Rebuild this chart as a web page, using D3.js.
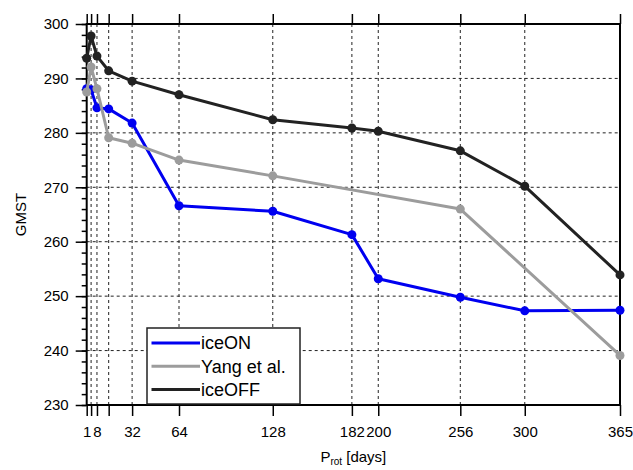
<!DOCTYPE html>
<html>
<head>
<meta charset="utf-8">
<script src="https://cdn.jsdelivr.net/npm/d3@7"></script>
<style>
  body { margin: 0; background: #fff; }
  text { font-family: "Liberation Sans", Arial, sans-serif; fill: #000; }
</style>
</head>
<body>
<div id="chart"></div>
<script>
// rotation periods [days]
const prot = [1, 4, 8, 16, 32, 64, 128, 182, 200, 256, 300, 365];
const iceON = [288.1, 287.9, 284.6, 284.4, 281.8, 266.6, 265.6, 261.3, 253.2, 249.8, 247.3, 247.4];
const iceOFF = [293.7, 297.8, 294.1, 291.4, 289.5, 287.0, 282.4, 280.9, 280.3, 276.7, 270.2, 253.9];
const yangProt = [1, 4, 8, 16, 32, 64, 128, 256, 365];
const yang = [287.5, 292.1, 288.1, 279.1, 278.1, 275.0, 272.1, 266.0, 239.1];

const xTicks = [1, 4, 8, 16, 32, 64, 128, 182, 200, 256, 300, 365];
const xTickLabels = ["1", "", "8", "", "32", "64", "128", "182", "200", "256", "300", "365"];
const yTicks = [230, 240, 250, 260, 270, 280, 290, 300];
const yMinorTicks = d3.range(230, 301, 2);

let width = 633,
  height = 470,
  padLeft = 86.7,
  padRight = 620,
  padTop = 24,
  padBottom = 405;

let xScale = d3.scaleLinear().domain([1, 365]).range([padLeft, padRight]);
let yScale = d3.scaleLinear().domain([230, 300]).range([padBottom, padTop]);

let svg = d3
  .select("#chart")
  .append("svg")
  .attr("width", width)
  .attr("height", height);

// dashed grid
let grid = svg.append("g").attr("stroke", "#222").attr("stroke-width", 1).attr("stroke-dasharray", "3,3");
grid
  .selectAll(".vg")
  .data(xTicks.slice(1, -1))
  .enter()
  .append("line")
  .attr("x1", (d) => xScale(d))
  .attr("x2", (d) => xScale(d))
  .attr("y1", padTop)
  .attr("y2", padBottom);
grid
  .selectAll(".hg")
  .data(yTicks.slice(1, -1))
  .enter()
  .append("line")
  .attr("x1", padLeft)
  .attr("x2", padRight)
  .attr("y1", (d) => yScale(d))
  .attr("y2", (d) => yScale(d));

// axes
let xAxis = d3
  .axisBottom(xScale)
  .tickValues(xTicks)
  .tickSize(11)
  .tickPadding(10)
  .tickFormat((d, i) => xTickLabels[i]);
svg
  .append("g")
  .attr("transform", "translate(0," + padBottom + ")")
  .call(xAxis);

svg
  .append("g")
  .attr("transform", "translate(0," + padTop + ")")
  .call(d3.axisTop(xScale).tickValues(xTicks).tickSize(10).tickFormat(""));

svg
  .append("g")
  .attr("transform", "translate(" + padLeft + ",0)")
  .call(d3.axisLeft(yScale).tickValues(yMinorTicks).tickSize(5).tickFormat(""));

svg
  .append("g")
  .attr("transform", "translate(" + padLeft + ",0)")
  .call(d3.axisLeft(yScale).tickValues(yTicks).tickSize(11).tickPadding(7).tickFormat(d3.format("d")));

svg.selectAll(".domain").remove();
svg.selectAll(".tick line").attr("stroke", "#000").attr("stroke-width", 1.5);
svg.selectAll(".tick text").style("font-size", "15px").attr("fill", "#000");

// frame
svg
  .append("rect")
  .attr("x", padLeft)
  .attr("y", padTop)
  .attr("width", padRight - padLeft)
  .attr("height", padBottom - padTop)
  .attr("fill", "none")
  .attr("stroke", "#000")
  .attr("stroke-width", 2);

// series
const series = [
  { name: "iceON", x: prot, y: iceON, color: "#0000f0" },
  { name: "Yang et al.", x: yangProt, y: yang, color: "#9c9c9c" },
  { name: "iceOFF", x: prot, y: iceOFF, color: "#222222" },
];

let line = d3
  .line()
  .x((d) => xScale(d[0]))
  .y((d) => yScale(d[1]));

series.forEach(function (s) {
  let pts = s.x.map((x, i) => [x, s.y[i]]);
  svg
    .append("path")
    .datum(pts)
    .attr("d", line)
    .attr("fill", "none")
    .attr("stroke", s.color)
    .attr("stroke-width", 3)
    .attr("stroke-linejoin", "round");
  svg
    .selectAll(null)
    .data(pts)
    .enter()
    .append("circle")
    .attr("cx", (d) => xScale(d[0]))
    .attr("cy", (d) => yScale(d[1]))
    .attr("r", 4.5)
    .attr("fill", s.color);
});

// legend
let legend = svg.append("g").attr("transform", "translate(147,328)");
legend
  .append("rect")
  .attr("width", 153)
  .attr("height", 76)
  .attr("fill", "#fff")
  .attr("stroke", "#222")
  .attr("stroke-width", 1.5);
let item = legend
  .selectAll(".legend-label")
  .data(series)
  .enter()
  .append("g")
  .attr("class", "legend-label")
  .attr("transform", (d, i) => "translate(0," + (15 + i * 23.3) + ")");
item
  .append("line")
  .attr("x1", 4.5)
  .attr("x2", 53)
  .attr("stroke", (d) => d.color)
  .attr("stroke-width", 3);
item
  .append("text")
  .attr("x", 54)
  .attr("dy", "0.36em")
  .style("font-size", "18px")
  .text((d) => d.name);

// axis titles
svg
  .append("text")
  .attr("transform", "rotate(-90)")
  .attr("x", -(padTop + padBottom) / 2)
  .attr("y", 26)
  .style("text-anchor", "middle")
  .style("font-size", "15px")
  .text("GMST");

let xt = svg
  .append("text")
  .attr("x", (padLeft + padRight) / 2)
  .attr("y", 462)
  .style("text-anchor", "middle")
  .style("font-size", "15px");
xt.append("tspan").text("P");
xt.append("tspan").attr("dy", 3).style("font-size", "10px").text("rot");
xt.append("tspan").attr("dy", -3).text(" [days]");
</script>
</body>
</html>
